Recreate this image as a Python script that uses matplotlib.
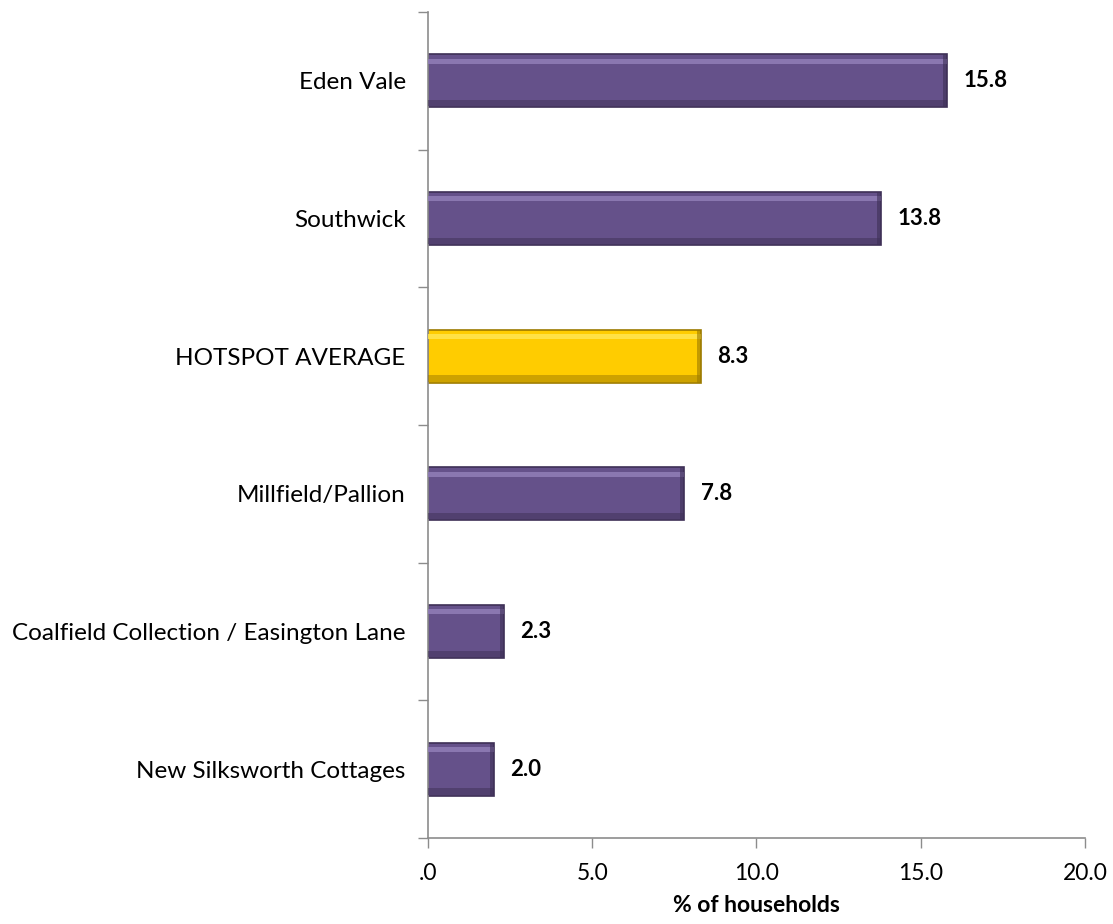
import matplotlib.pyplot as plt

# Data
areas = ['Eden Vale', 'Southwick', 'HOTSPOT AVERAGE', 'Millfield/Pallion',
         'Coalfield Collection / Easington Lane', 'New Silksworth Cottages']
pct = [15.8, 13.8, 8.3, 7.8, 2.3, 2.0]
highlight = 'HOTSPOT AVERAGE'

plt.rcParams['font.family'] = ['Lato', 'DejaVu Sans']

fig = plt.figure(figsize=(11.13, 9.24), dpi=100)
ax = fig.add_axes([0.3845, 0.0931, 0.5903, 0.8939])

ypos = list(range(len(areas)))
fills = ['#FFCC00' if a == highlight else '#65518A' for a in areas]
lights = ['#FFE44D' if a == highlight else '#8F7CB5' for a in areas]
darks = ['#9C7A00' if a == highlight else '#3E3056' for a in areas]

h = 0.385
# base bar with dark outline (bevel look)
ax.barh(ypos, pct, height=h, color=fills, edgecolor=darks, linewidth=1.2, zorder=2)
# top highlight strip
ax.barh([y - h / 2 + 0.05 for y in ypos], pct, height=0.035, color=lights,
        linewidth=0, alpha=0.9, zorder=3)
# bottom shade strip
ax.barh([y + h / 2 - 0.03 for y in ypos], pct, height=0.045, color=darks,
        alpha=0.5, linewidth=0, zorder=3)
# darker right end
ax.barh(ypos, [0.12] * len(pct), left=[v - 0.12 for v in pct], height=h,
        color=darks, alpha=0.6, linewidth=0, zorder=3)

for y, v in zip(ypos, pct):
    ax.text(v + 0.5, y, f'{v:.1f}', va='center', ha='left',
            fontsize=16, fontweight='bold', color='black')

ax.set_ylim(len(areas) - 0.5, -0.5)
ax.set_xlim(0, 20)
ax.set_xticks([0, 5, 10, 15, 20])
ax.set_xticklabels(['.0', '5.0', '10.0', '15.0', '20.0'], fontsize=16.5)
ax.set_yticks(ypos)
ax.set_yticklabels(areas, fontsize=17.5)
ax.set_yticks([y + 0.5 for y in range(-1, len(areas))], minor=True)
ax.tick_params(axis='y', which='major', length=0, pad=16)
ax.tick_params(axis='y', which='minor', length=7, color='#8C8C8C', width=1)
ax.tick_params(axis='x', length=7, color='#8C8C8C', width=1, pad=11)

for s in ['top', 'right']:
    ax.spines[s].set_visible(False)
for s in ['left', 'bottom']:
    ax.spines[s].set_color('#8C8C8C')
    ax.spines[s].set_linewidth(1.2)

ax.set_xlabel('% of households', fontsize=16.5, fontweight='bold', labelpad=8)

fig.savefig('out.png', dpi=100)
